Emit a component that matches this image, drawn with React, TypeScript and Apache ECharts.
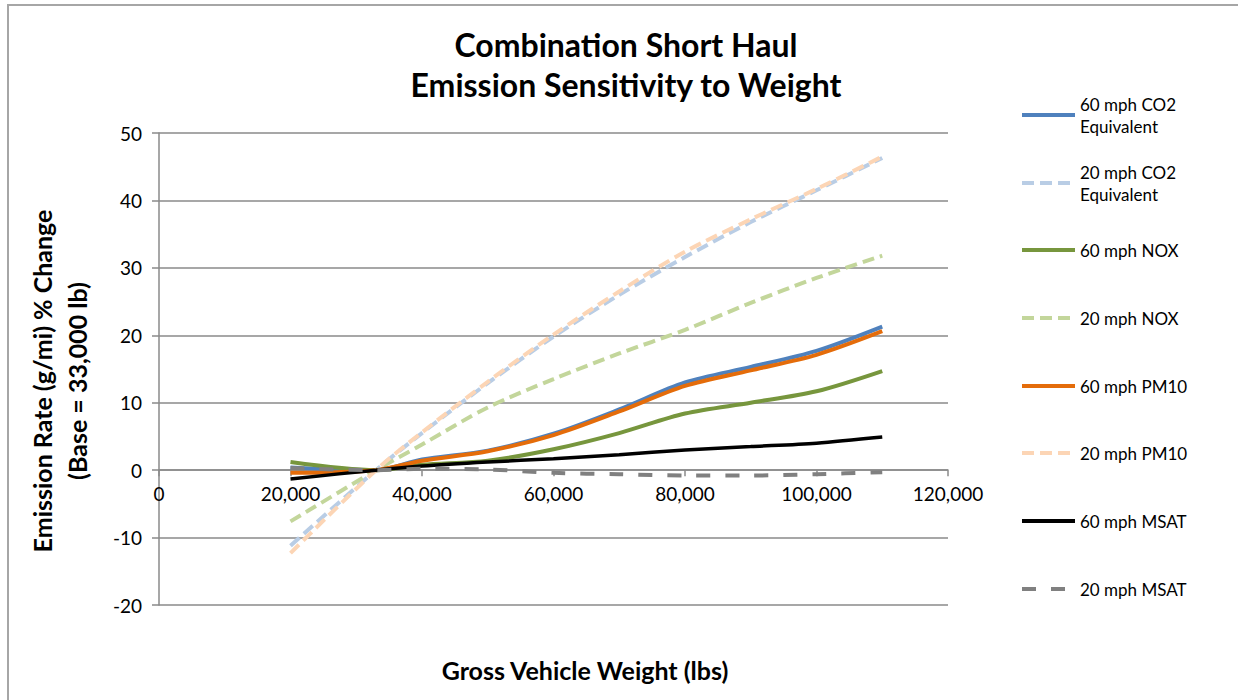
import React, { useEffect, useRef } from "react";
import * as echarts from "echarts";

const weights = [20000, 33000, 40000, 50000, 60000, 70000, 80000, 90000, 100000, 110000];

const co2_60 = [0.4, 0, 1.6, 2.9, 5.4, 9.0, 13.0, 15.3, 17.7, 21.3];
const co2_20 = [-11.2, 0, 5.5, 12.9, 19.8, 26.0, 31.6, 36.8, 41.5, 46.3];
const nox_60 = [1.2, 0, 0.8, 1.4, 3.1, 5.5, 8.4, 10.0, 11.7, 14.7];
const nox_20 = [-7.6, 0, 3.8, 9.3, 13.5, 17.3, 20.8, 24.8, 28.5, 31.8];
const pm_60 = [-0.4, 0, 1.4, 2.8, 5.2, 8.7, 12.5, 14.8, 17.1, 20.6];
const pm_20 = [-12.3, 0, 5.6, 13.1, 20.1, 26.5, 32.4, 37.2, 41.7, 46.5];
const msat_60 = [-1.3, 0, 0.6, 1.2, 1.7, 2.3, 3.0, 3.5, 4.0, 4.9];
const msat_20 = [0.3, 0, 0.2, 0.1, -0.4, -0.6, -0.8, -0.8, -0.6, -0.3];

const seriesNames = [
  "60 mph CO2 Equivalent",
  "20 mph CO2 Equivalent",
  "60 mph NOX",
  "20 mph NOX",
  "60 mph PM10",
  "20 mph PM10",
  "60 mph MSAT",
  "20 mph MSAT",
];
const seriesData = [co2_60, co2_20, nox_60, nox_20, pm_60, pm_20, msat_60, msat_20];
const seriesColors = ["#4F81BD", "#B9CDE5", "#77963D", "#C3D69B", "#E46C0A", "#FCD5B5", "#000000", "#808080"];
const seriesDash: any[] = ["solid", [12, 6], "solid", [12, 6], "solid", [12, 6], "solid", [14, 15]];
const legendCenters = [115, 183, 250, 318, 386, 453, 521, 589];

const FONT = "Lato";

export default function App() {
  const ref = useRef<HTMLDivElement>(null);
  useEffect(() => {
    document.body.style.margin = "0";
    const chart = echarts.init(ref.current!, null, { renderer: "svg" });
    const lh = 22;
    const gridTop = 133;
    const gridH = 472;
    const yMin = -20;
    const yMax = 50;
    const zeroOffset = -(gridH * (0 - yMin)) / (yMax - yMin);
    const option: any = {
      animation: false,
      backgroundColor: "#ffffff",
      graphic: [
        {
          type: "rect",
          shape: { x: 8, y: 5, width: 1400, height: 900 },
          style: { fill: "none", stroke: "#a6a6a6", lineWidth: 2 },
          silent: true,
          z: -10,
        },
        {
          type: "text",
          x: 626,
          y: 24,
          style: {
            text: "Combination Short Haul\nEmission Sensitivity to Weight",
            align: "center",
            verticalAlign: "top",
            fontFamily: FONT,
            fontSize: 32,
            fontWeight: "bold",
            fill: "#000",
            lineHeight: 40,
          },
        },
        {
          type: "text",
          x: 585,
          y: 670,
          style: {
            text: "Gross Vehicle Weight (lbs)",
            align: "center",
            verticalAlign: "middle",
            fontFamily: FONT,
            fontSize: 25,
            fontWeight: "bold",
            fill: "#000",
          },
        },
      ],
      legend: seriesNames.map((n, i) => {
        const two = n.includes("Equivalent");
        return {
          data: [n],
          left: 1020,
          top: legendCenters[i] - (two ? lh * 1.5 : lh / 2),
          orient: "vertical",
          itemWidth: 53,
          itemHeight: 14,
          padding: 0,
          selectedMode: false,
          formatter: (name: string) => name.replace(" Equivalent", "\nEquivalent"),
          lineStyle: { width: 4 },
          itemStyle: { opacity: 0 },
          textStyle: {
            fontFamily: FONT,
            fontSize: 17,
            color: "#000",
            lineHeight: lh,
            padding: two ? [lh, 0, 0, 0] : 0,
          },
        };
      }),
      grid: { left: 159, top: gridTop, width: 789, height: gridH, containLabel: false },
      xAxis: {
        type: "value",
        min: 0,
        max: 120000,
        interval: 20000,
        offset: zeroOffset,
        axisLine: { onZero: false, lineStyle: { color: "#8a8a8a", width: 1.5 } },
        axisTick: { show: true, length: 6, lineStyle: { color: "#8a8a8a", width: 1.5 } },
        splitLine: { show: false },
        axisLabel: {
          margin: 14,
          fontFamily: FONT,
          fontSize: 19,
          color: "#000",
          formatter: (v: number) => v.toLocaleString("en-US"),
        },
      },
      yAxis: {
        type: "value",
        min: yMin,
        max: yMax,
        interval: 10,
        name: "Emission Rate (g/mi) % Change\n(Base = 33,000 lb)",
        nameLocation: "middle",
        nameRotate: 90,
        nameGap: 65,
        nameTextStyle: {
          fontFamily: FONT,
          fontSize: 25,
          fontWeight: "bold",
          color: "#000",
          lineHeight: 35,
          padding: [0, 24, 0, 0],
        },
        axisLine: { show: true, onZero: false, lineStyle: { color: "#8a8a8a", width: 1.5 } },
        axisTick: { show: true, length: 7, lineStyle: { color: "#8a8a8a", width: 1.5 } },
        splitLine: { show: true, lineStyle: { color: "#8a8a8a", width: 1.5 } },
        axisLabel: { margin: 17, fontFamily: FONT, fontSize: 19, color: "#000" },
      },
      series: seriesNames.map((n, i) => ({
        name: n,
        type: "line",
        smooth: 0.3,
        symbol: "none",
        showSymbol: false,
        color: seriesColors[i],
        lineStyle: { color: seriesColors[i], width: i === 6 ? 3.5 : 4, type: seriesDash[i] },
        data: weights.map((w, k) => [w, seriesData[i][k]]),
      })),
    };
    chart.setOption(option);
    return () => chart.dispose();
  }, []);
  return <div ref={ref} style={{ width: 1238, height: 700 }} />;
}
